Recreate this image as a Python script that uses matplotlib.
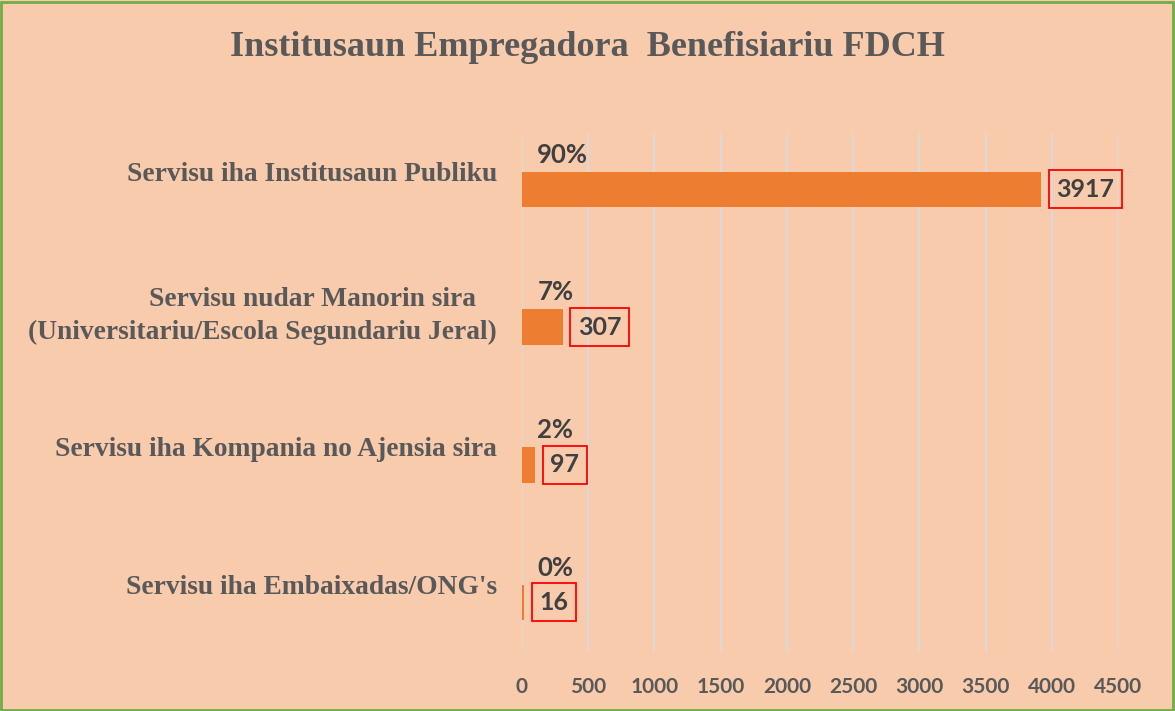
import matplotlib.pyplot as plt
from matplotlib.patches import Rectangle

categories = [
    "Servisu iha Institusaun Publiku",
    "Servisu nudar Manorin sira   \n(Universitariu/Escola Segundariu Jeral)",
    "Servisu iha Kompania no Ajensia sira",
    "Servisu iha Embaixadas/ONG's",
]
values = [3917, 307, 97, 16]
percents = ["90%", "7%", "2%", "0%"]
xticks = [0, 500, 1000, 1500, 2000, 2500, 3000, 3500, 4000, 4500]

bg = "#F8CBAD"
bar_color = "#ED7D31"
text_gray = "#404040"

fig = plt.figure(figsize=(11.75, 7.11), dpi=100, facecolor=bg)
ax = fig.add_axes([522 / 1175, 1 - 652 / 711, (1118 - 522) / 1175, (652 - 133) / 711])
ax.set_facecolor(bg)

pos = list(range(len(categories)))
ax.barh(pos, values, height=0.26, color=bar_color, zorder=3)

ax.set_xlim(0, 4500)
ax.set_ylim(3.36, -0.41)
ax.set_xticks(xticks)
ax.set_xticklabels([str(t) for t in xticks], fontsize=15, fontweight="bold",
                   color="#595959", family="Lato")
ax.tick_params(axis="x", length=0, pad=18)

# category labels sit a bit above the bar centres
ax.set_yticks([p - 0.13 for p in pos])
ax.set_yticklabels(categories, fontsize=19.8, fontweight="bold", color="#595959",
                   family="Liberation Serif", linespacing=1.4)
ax.tick_params(axis="y", length=0, pad=18)
ax.grid(axis="x", color="#D9D9D9", linewidth=1.5, zorder=0)
for s in ax.spines.values():
    s.set_visible(False)

for i, (v, p) in enumerate(zip(values, percents)):
    ax.annotate(p, xy=(0, i), xytext=(11, 25), textcoords="offset points",
                ha="left", va="center", fontsize=18.5, fontweight="bold",
                color=text_gray, family="Lato")
    ax.annotate(str(v), xy=(v, i), xytext=(11, 0), textcoords="offset points",
                ha="left", va="center", fontsize=18, fontweight="bold",
                color=text_gray, family="Lato",
                bbox=dict(boxstyle="square,pad=0.3", fc="none", ec="red", lw=1.3))

fig.text(0.5, 1 - 48 / 711, "Institusaun Empregadora  Benefisiariu FDCH",
         ha="center", va="center", fontsize=26, fontweight="bold",
         color="#595959", family="Liberation Serif")

fig.patches.append(Rectangle((0.001, 0.002), 0.997, 0.995, transform=fig.transFigure,
                             fill=False, ec="#70AD47", lw=2))

fig.savefig("out.png", dpi=100, facecolor=bg)
